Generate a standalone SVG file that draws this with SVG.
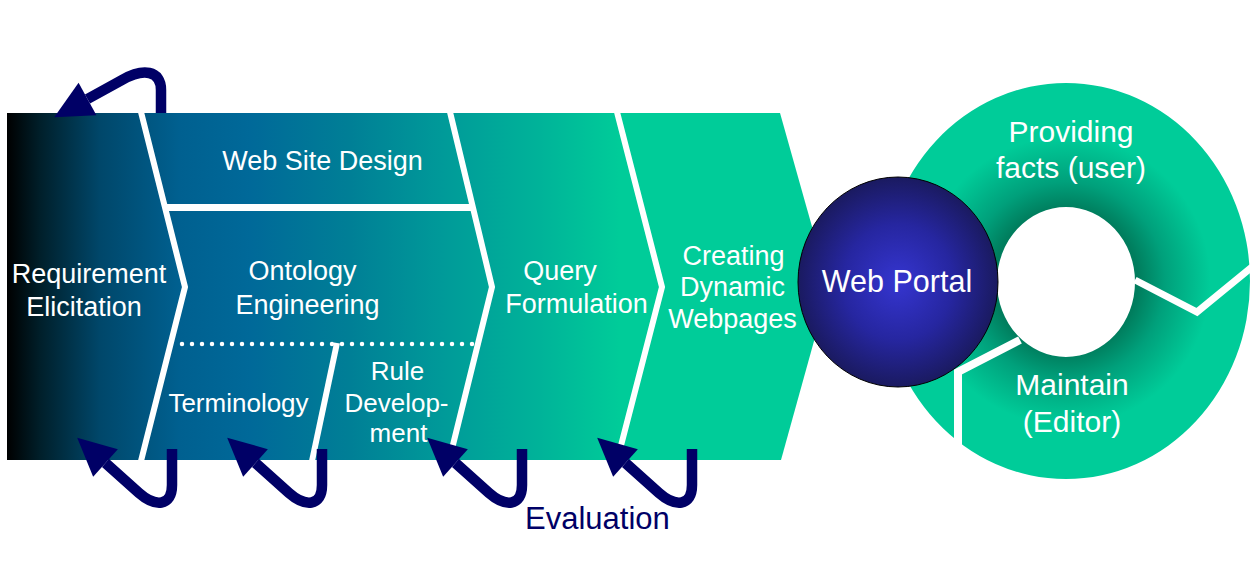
<svg xmlns="http://www.w3.org/2000/svg" width="1252" height="564" viewBox="0 0 1252 564">
  <defs>
    <linearGradient id="bandFill" gradientUnits="userSpaceOnUse" x1="7" y1="0" x2="829" y2="0">
      <stop offset="0" stop-color="#000000"/>
      <stop offset="0.04" stop-color="#001f2a"/>
      <stop offset="0.113" stop-color="#00476a"/>
      <stop offset="0.21" stop-color="#006090"/>
      <stop offset="0.296" stop-color="#006999"/>
      <stop offset="0.417" stop-color="#007f96"/>
      <stop offset="0.53" stop-color="#009a99"/>
      <stop offset="0.648" stop-color="#00b399"/>
      <stop offset="0.746" stop-color="#00cc99"/>
      <stop offset="1" stop-color="#00cc99"/>
    </linearGradient>
    <radialGradient id="ringFill" gradientUnits="userSpaceOnUse" cx="1066" cy="281" r="190">
      <stop offset="0.38" stop-color="#007d5d"/>
      <stop offset="0.52" stop-color="#00a07b"/>
      <stop offset="0.76" stop-color="#00cc99"/>
      <stop offset="1" stop-color="#00cc99"/>
    </radialGradient>
    <radialGradient id="portalFill" cx="0.5" cy="0.5" r="0.5">
      <stop offset="0" stop-color="#3535d0"/>
      <stop offset="0.55" stop-color="#2626a0"/>
      <stop offset="1" stop-color="#1a1a60"/>
    </radialGradient>
    <marker id="head" markerUnits="userSpaceOnUse" markerWidth="40" markerHeight="40" refX="0" refY="0" viewBox="0 -20 40 40" orient="auto" overflow="visible">
      <path d="M0,-18.5 L38,0 L0,18.5 Z" fill="#000066"/>
    </marker>
    <!-- J-shaped feedback loop below the band -->
    <path id="loop" d="M172,449 V485 C172,507 155,507 139,493 L105.5,463"/>
  </defs>
  <style>
    .lbl { font-family: "Liberation Sans", Arial, sans-serif; fill: #ffffff; }
    .big { font-size: 27px; }
    .mid { font-size: 26px; }
    .xl { font-size: 30px; }
    .sep { fill: none; stroke: #ffffff; stroke-width: 6; }
    .arrow { fill: none; stroke: #000066; stroke-width: 10.5; marker-end: url(#head); }
  </style>

  <!-- process band -->
  <g id="band">
    <path d="M7,113 L780,113 L829,287 L781,460 L7,460 Z" fill="url(#bandFill)"/>
    <polyline class="sep" points="141,112 185,287 141,461"/>
    <polyline class="sep" points="450,112 492,287 449,461"/>
    <polyline class="sep" points="617,112 662,287 617,461"/>
    <line x1="165" y1="207.5" x2="473" y2="207.5" stroke="#ffffff" stroke-width="7"/>
    <line x1="182" y1="344" x2="476" y2="344" stroke="#ffffff" stroke-width="4.5" stroke-linecap="round" stroke-dasharray="0 10"/>
    <line x1="337" y1="343" x2="312" y2="461" stroke="#ffffff" stroke-width="6"/>
  </g>

  <g id="requirement-elicitation" class="lbl big" text-anchor="middle">
    <text x="89" y="283">Requirement</text>
    <text x="84" y="316">Elicitation</text>
  </g>
  <g id="web-site-design" class="lbl big" text-anchor="middle">
    <text x="322.5" y="170">Web Site Design</text>
  </g>
  <g id="ontology-engineering" class="lbl big" text-anchor="middle">
    <text x="302.5" y="280">Ontology</text>
    <text x="307.5" y="314">Engineering</text>
  </g>
  <g id="terminology" class="lbl mid" text-anchor="middle">
    <text x="238.5" y="412">Terminology</text>
  </g>
  <g id="rule-development" class="lbl mid" text-anchor="middle">
    <text x="397.5" y="380">Rule</text>
    <text x="396.5" y="412">Develop-</text>
    <text x="398.5" y="442">ment</text>
  </g>
  <g id="query-formulation" class="lbl big" text-anchor="middle">
    <text x="560" y="280">Query</text>
    <text x="576.5" y="313">Formulation</text>
  </g>
  <g id="dynamic-webpages" class="lbl big" text-anchor="middle">
    <text x="733.5" y="265">Creating</text>
    <text x="732.5" y="296">Dynamic</text>
    <text x="732.5" y="328">Webpages</text>
  </g>

  <!-- usage cycle around the portal -->
  <g id="usage-cycle">
    <path fill-rule="evenodd" fill="url(#ringFill)" d="M1250,281 A184,198 0 1 0 882,281 A184,198 0 1 0 1250,281 Z M1135,282 A69,75 0 1 0 997,282 A69,75 0 1 0 1135,282 Z"/>
    <polyline points="1135,280 1197,312 1252,267" fill="none" stroke="#ffffff" stroke-width="7"/>
    <polyline points="1020,340 958,372 958,450" fill="none" stroke="#ffffff" stroke-width="8"/>
    <g class="lbl xl" text-anchor="middle">
      <text x="1071" y="142">Providing</text>
      <text x="1071" y="178">facts (user)</text>
      <text x="1072" y="395">Maintain</text>
      <text x="1072" y="432">(Editor)</text>
    </g>
  </g>

  <g id="web-portal">
    <ellipse cx="898" cy="282" rx="100" ry="105" fill="url(#portalFill)" stroke="#000000" stroke-width="1"/>
    <text class="lbl" x="897" y="292" font-size="30.5" text-anchor="middle">Web Portal</text>
  </g>

  <!-- feedback loops -->
  <g id="connectors">
    <path class="arrow" d="M161,113 V90 C161,70 143,68 122,80 L87.5,99"/>
    <use href="#loop" class="arrow"/>
    <use href="#loop" class="arrow" transform="translate(150,0)"/>
    <use href="#loop" class="arrow" transform="translate(350,0)"/>
    <use href="#loop" class="arrow" transform="translate(520,0)"/>
  </g>

  <g id="evaluation">
    <text x="525" y="529" font-family="Liberation Sans, Arial, sans-serif" font-size="31" fill="#000066">Evaluation</text>
  </g>
</svg>
